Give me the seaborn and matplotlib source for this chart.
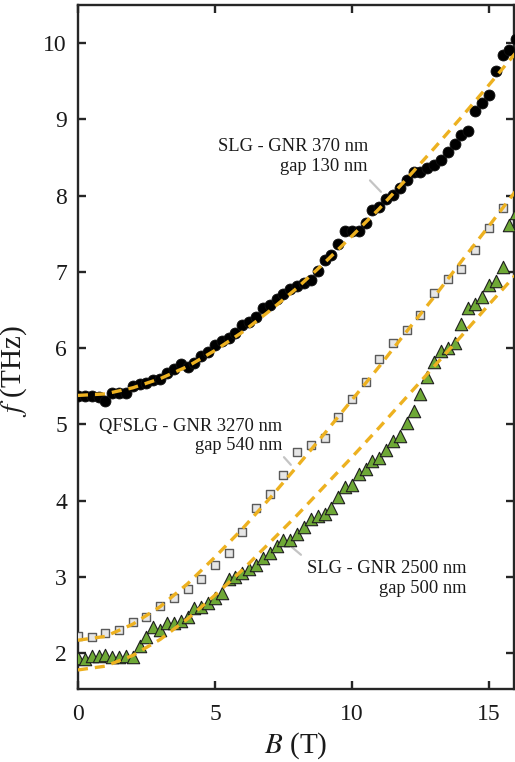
import matplotlib
matplotlib.use("Agg")
import matplotlib.pyplot as plt
import seaborn as sns
import pandas as pd

# --- measured resonance frequencies (THz) versus magnetic field (T) ---
# SLG - GNR 370 nm, gap 130 nm
B_slg370 = [0.0, 0.25, 0.5, 0.75, 1.0, 1.25, 1.5, 1.75, 2.0, 2.25, 2.5, 2.75,
            3.0, 3.25, 3.5, 3.75, 4.0, 4.25, 4.5, 4.75, 5.0, 5.25, 5.5, 5.75,
            6.0, 6.25, 6.5, 6.75, 7.0, 7.25, 7.5, 7.75, 8.0, 8.25, 8.5, 8.75,
            9.0, 9.25, 9.5, 9.75, 10.0, 10.25, 10.5, 10.75, 11.0, 11.25, 11.5,
            11.75, 12.0, 12.25, 12.5, 12.75, 13.0, 13.25, 13.5, 13.75, 14.0,
            14.25, 14.5, 14.75, 15.0, 15.25, 15.5, 15.75, 16.0]
f_slg370 = [5.37, 5.37, 5.37, 5.36, 5.31, 5.41, 5.41, 5.41, 5.50, 5.53, 5.54, 5.58,
            5.60, 5.68, 5.73, 5.79, 5.75, 5.81, 5.90, 5.95, 6.04, 6.10, 6.13, 6.20,
            6.30, 6.34, 6.41, 6.52, 6.56, 6.65, 6.71, 6.78, 6.81, 6.85, 6.90, 7.01,
            7.16, 7.22, 7.37, 7.54, 7.54, 7.53, 7.64, 7.81, 7.85, 7.95, 8.01,
            8.10, 8.20, 8.31, 8.31, 8.36, 8.40, 8.47, 8.57, 8.68, 8.79,
            8.85, 9.11, 9.21, 9.32, 9.64, 9.85, 9.91, 10.05]

# QFSLG - GNR 3270 nm, gap 540 nm
B_qfslg = [0.0, 0.5, 1.0, 1.5, 2.0, 2.5, 3.0, 3.5, 4.0, 4.5, 5.0, 5.5, 6.0, 6.5,
           7.0, 7.5, 8.0, 8.5, 9.0, 9.5, 10.0, 10.5, 11.0, 11.5, 12.0, 12.5,
           13.0, 13.5, 14.0, 14.5, 15.0, 15.5]
f_qfslg = [2.23, 2.21, 2.26, 2.31, 2.41, 2.47, 2.62, 2.72, 2.84, 2.97, 3.15, 3.31,
           3.59, 3.90, 4.09, 4.33, 4.64, 4.73, 4.82, 5.10, 5.33, 5.55, 5.86, 6.07,
           6.24, 6.43, 6.72, 6.91, 7.04, 7.29, 7.57, 7.84]

# SLG - GNR 2500 nm, gap 500 nm
B_slg2500 = [0.0, 0.25, 0.5, 0.75, 1.0, 1.25, 1.5, 1.75, 2.0, 2.25, 2.5, 2.75,
             3.0, 3.25, 3.5, 3.75, 4.0, 4.25, 4.5, 4.75, 5.0, 5.25, 5.5, 5.75,
             6.0, 6.25, 6.5, 6.75, 7.0, 7.25, 7.5, 7.75, 8.0, 8.25, 8.5, 8.75,
             9.0, 9.25, 9.5, 9.75, 10.0, 10.25, 10.5, 10.75, 11.0, 11.25, 11.5,
             11.75, 12.0, 12.25, 12.5, 12.75, 13.0, 13.25, 13.5, 13.75, 14.0,
             14.25, 14.5, 14.75, 15.0, 15.25, 15.5, 15.75, 16.0]
f_slg2500 = [1.93, 1.92, 1.96, 1.96, 1.97, 1.95, 1.95, 1.96, 1.95, 2.09, 2.21, 2.34,
             2.30, 2.39, 2.39, 2.42, 2.47, 2.59, 2.60, 2.66, 2.72, 2.79, 2.97, 3.00,
             3.05, 3.10, 3.15, 3.25, 3.31, 3.40, 3.49, 3.49, 3.56, 3.65, 3.76, 3.80,
             3.82, 3.91, 4.05, 4.18, 4.20, 4.35, 4.42, 4.52, 4.56, 4.66, 4.78,
             4.85, 5.02, 5.18, 5.40, 5.62, 5.82, 5.96, 6.00, 6.07, 6.32,
             6.53, 6.58, 6.67, 6.83, 6.88, 7.07, 7.62, 7.77]

# --- fitted magnetoplasmon dispersions, sampled every tesla ---
B_fit = [0, 1, 2, 3, 4, 5, 6, 7, 8, 9, 10, 11, 12, 13, 14, 15, 16]
fit_slg370 = [5.38, 5.40, 5.48, 5.60, 5.76, 5.97, 6.21, 6.49, 6.79, 7.12, 7.47,
              7.83, 8.22, 8.62, 9.03, 9.45, 9.88]
fit_qfslg = [2.17, 2.22, 2.38, 2.61, 2.91, 3.26, 3.63, 4.03, 4.45, 4.88, 5.32,
             5.76, 6.22, 6.67, 7.14, 7.60, 8.07]
fit_slg2500 = [1.78, 1.83, 1.97, 2.18, 2.45, 2.76, 3.09, 3.45, 3.81, 4.19, 4.57,
               4.96, 5.36, 5.76, 6.16, 6.57, 6.97]

# --- styling ---
sns.set_theme(style="ticks")
plt.rcParams["font.family"] = ["Liberation Serif", "DejaVu Serif"]
plt.rcParams["mathtext.fontset"] = "stix"

ink = "#262626"
fit_color = "#EDB120"
leader_color = "#c4c4c4"

W, H = 515, 762
fig = plt.figure(figsize=(W / 100, H / 100), dpi=100)
x0, x1, y0, y1 = 78, 513.5, 5, 689
ax = fig.add_axes([x0 / W, 1 - y1 / H, (x1 - x0) / W, (y1 - y0) / H])

meas = pd.concat([
    pd.DataFrame({"B": B_slg370, "f": f_slg370, "sample": "SLG 370"}),
    pd.DataFrame({"B": B_qfslg, "f": f_qfslg, "sample": "QFSLG 3270"}),
    pd.DataFrame({"B": B_slg2500, "f": f_slg2500, "sample": "SLG 2500"}),
])

sns.scatterplot(data=meas[meas["sample"] == "QFSLG 3270"], x="B", y="f",
                marker="s", s=40, color="#e6e6e6", edgecolor="#5a5a5a",
                linewidth=1.0, ax=ax, zorder=3, legend=False)
sns.scatterplot(data=meas[meas["sample"] == "SLG 2500"], x="B", y="f",
                marker="^", s=80, color="#6ea836", edgecolor="#1e1e1e",
                linewidth=0.8, ax=ax, zorder=3, legend=False)
sns.scatterplot(data=meas[meas["sample"] == "SLG 370"], x="B", y="f",
                marker="o", s=62, color="black", edgecolor="#111111",
                linewidth=0.6, ax=ax, zorder=3, legend=False)

for fit in (fit_slg370, fit_qfslg, fit_slg2500):
    sns.lineplot(x=B_fit, y=fit, ax=ax, color=fit_color, linewidth=2.4,
                 zorder=4, legend=False)
for ln in ax.lines:
    ln.set_dashes((3.0, 2.1))
    ln.set_dash_capstyle("butt")

# labels with leader lines
txt_kw = dict(fontsize=13.3, color="#1a1a1a", ha="right", va="center",
              multialignment="right", linespacing=1.2, zorder=5)
ax.text(10.58, 8.51, "SLG - GNR 370 nm\ngap 130 nm", **txt_kw)
ax.plot([10.66, 11.06], [8.20, 8.05], color=leader_color, lw=1.6, zorder=2)
ax.text(7.45, 4.85, "QFSLG - GNR 3270 nm\ngap 540 nm", **txt_kw)
ax.plot([7.52, 7.77], [4.57, 4.47], color=leader_color, lw=1.6, zorder=2)
ax.text(14.2, 2.98, "SLG - GNR 2500 nm\ngap 500 nm", **txt_kw)
ax.plot([7.81, 8.14], [3.39, 3.29], color=leader_color, lw=1.6, zorder=2)

ax.set_xlim(0, 15.9)
ax.set_ylim(1.53, 10.5)
ax.set_xticks([0, 5, 10, 15])
ax.set_yticks([2, 3, 4, 5, 6, 7, 8, 9, 10])
ax.set_xticklabels(["0", "5", "10", "15"])
ax.set_yticklabels(["2", "3", "4", "5", "6", "7", "8", "9", "10"])

for side in ("left", "right", "top", "bottom"):
    ax.spines[side].set_visible(True)
    ax.spines[side].set_linewidth(1.7)
    ax.spines[side].set_color(ink)
ax.tick_params(direction="in", length=6, width=1.7, color=ink,
               top=True, right=True, labelsize=17, labelcolor="#1a1a1a")
ax.tick_params(axis="x", pad=11)
ax.tick_params(axis="y", pad=8)

ax.set_xlabel(r"$B$ (T)", fontsize=21, color="#1a1a1a", labelpad=4)
ax.set_ylabel(r"$f$ (THz)", fontsize=21, color="#1a1a1a")
ax.yaxis.set_label_coords(-0.112, 0.465)

fig.savefig("out.png", dpi=100)
